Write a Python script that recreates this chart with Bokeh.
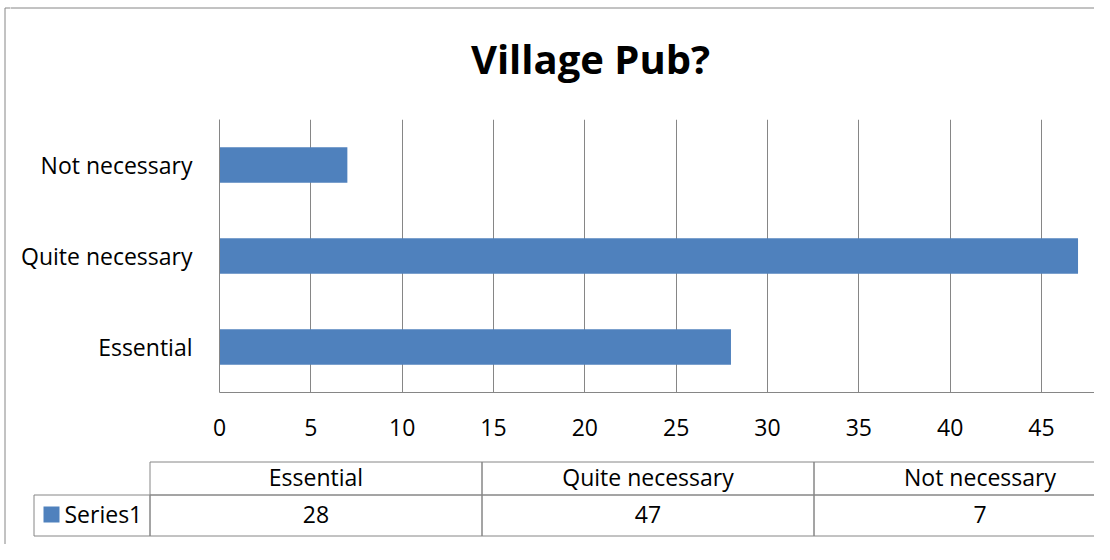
from bokeh.plotting import figure
from bokeh.layouts import column, row
from bokeh.models import FactorRange, Range1d, FixedTicker
from bokeh.core.properties import value
from bokeh.embed import file_html
from bokeh.resources import INLINE

# ---- data ----
categories = ["Essential", "Quite necessary", "Not necessary"]
values = [28, 47, 7]
series_name = "Series1"
title_text = "Village Pub?"
x_ticks = [0, 5, 10, 15, 20, 25, 30, 35, 40, 45]

# ---- styling / layout constants ----
W = 1094
H = 544
GRAY = "#868686"
BLUE = "#4F81BD"
FONT = "Open Sans"
FS = "23px"

LEFT_W = 10      # strip holding the chart's left border line
TOP_H = 112      # title strip height
MID_H = 336      # chart strip height
BOT_H = H - TOP_H - MID_H   # table strip height
BORDER_X = 4.5
BORDER_Y = 7.5


def no_align(f):
    try:
        f.frame_align = False
    except Exception:
        pass
    return f


def blank(x0, width, y0, height):
    """Figure whose frame fills the canvas; coords are page pixels, y downward."""
    f = figure(width=width, height=height,
               x_range=Range1d(x0, x0 + width), y_range=Range1d(y0 + height, y0),
               x_axis_type=None, y_axis_type=None,
               output_backend="svg", toolbar_location=None,
               min_border=0, min_border_left=0, min_border_right=0,
               min_border_top=0, min_border_bottom=0)
    f.outline_line_color = None
    f.grid.visible = False
    f.background_fill_color = "white"
    f.border_fill_color = "white"
    return no_align(f)


# ---- left strip: outer border (left side + start of top side) ----
pL = blank(0, LEFT_W, 0, H)
pL.segment(x0=[BORDER_X, BORDER_X], y0=[BORDER_Y, BORDER_Y],
           x1=[BORDER_X, LEFT_W + 1], y1=[H + 1, BORDER_Y],
           line_color=GRAY, line_width=1)

# ---- title strip ----
CW = W - LEFT_W
pT = blank(LEFT_W, CW, 0, TOP_H)
pT.segment(x0=[LEFT_W - 1], y0=[BORDER_Y], x1=[W + 10], y1=[BORDER_Y],
           line_color=GRAY, line_width=1)
pT.text(x=[590], y=[58], text=[title_text], text_align="center",
        text_baseline="middle", text_font=value(FONT), text_font_style="bold",
        text_font_size="40px", text_color="black")

# ---- chart ----
frame_left = 219 - LEFT_W
frame_top = 119 - TOP_H
frame_bottom = 392 - TOP_H
px_per_unit = (1041 - 219) / 45.0
x_end = (W - 219) / px_per_unit

pA = figure(width=CW, height=MID_H,
            y_range=FactorRange(*categories),
            x_range=Range1d(0, x_end),
            output_backend="svg", toolbar_location=None,
            min_border_left=frame_left, min_border_right=0,
            min_border_top=frame_top, min_border_bottom=MID_H - frame_bottom)
no_align(pA)
pA.outline_line_color = None
pA.background_fill_color = "white"
pA.border_fill_color = "white"

pA.hbar(y=categories, right=values, left=0, height=0.39,
        fill_color=BLUE, line_color=None)

pA.ygrid.grid_line_color = None
pA.xgrid.ticker = FixedTicker(ticks=x_ticks)
pA.xgrid.grid_line_color = GRAY
pA.xgrid.grid_line_width = 1

pA.xaxis.ticker = FixedTicker(ticks=x_ticks)
for ax in (pA.xaxis, pA.yaxis):
    ax.axis_line_color = GRAY
    ax.axis_line_width = 1
    ax.major_tick_line_color = None
    ax.minor_tick_line_color = None
    ax.major_tick_out = 0
    ax.major_tick_in = 0
    ax.minor_tick_out = 0
    ax.minor_tick_in = 0
    ax.major_label_text_font = FONT
    ax.major_label_text_font_size = FS
    ax.major_label_text_color = "black"
pA.xaxis.major_label_standoff = 26
pA.yaxis.major_label_standoff = 27

# ---- data table strip ----
y0 = TOP_H + MID_H
pB = blank(LEFT_W, CW, y0, BOT_H)

col_left = 149.5
col_w = 332
r1_top, r1_bot = 461.5, 494.5
r2_top, r2_bot = 494.5, 535.5
TXT_SHIFT = -2

n = len(categories)
lefts = [col_left + col_w * i for i in range(n)]
rights = [l + col_w for l in lefts]
centers = [(l + r) / 2 for l, r in zip(lefts, rights)]

# header cells and value cells
pB.quad(left=lefts, right=rights, top=[r1_top] * n, bottom=[r1_bot] * n,
        fill_color=None, line_color=GRAY, line_width=1)
pB.quad(left=lefts, right=rights, top=[r2_top] * n, bottom=[r2_bot] * n,
        fill_color=None, line_color=GRAY, line_width=1)
# series cell
pB.quad(left=[33.5], right=[col_left], top=[r2_top], bottom=[r2_bot],
        fill_color=None, line_color=GRAY, line_width=1)
# legend key
pB.quad(left=[43], right=[59], top=[506], bottom=[522],
        fill_color=BLUE, line_color=None)

pB.text(x=centers, y=[(r1_top + r1_bot) / 2 + TXT_SHIFT] * n, text=categories,
        text_align="center", text_baseline="middle", text_font=value(FONT),
        text_font_size=FS, text_color="black")
pB.text(x=centers, y=[(r2_top + r2_bot) / 2 + TXT_SHIFT + 0.5] * n,
        text=[str(v) for v in values],
        text_align="center", text_baseline="middle", text_font=value(FONT),
        text_font_size=FS, text_color="black")
pB.text(x=[64], y=[(r2_top + r2_bot) / 2 + TXT_SHIFT + 0.5], text=[series_name],
        text_align="left", text_baseline="middle", text_font=value(FONT),
        text_font_size=FS, text_color="black")

layout = row(pL, column(pT, pA, pB))

open("out.html", "w").write(file_html(layout, INLINE))
